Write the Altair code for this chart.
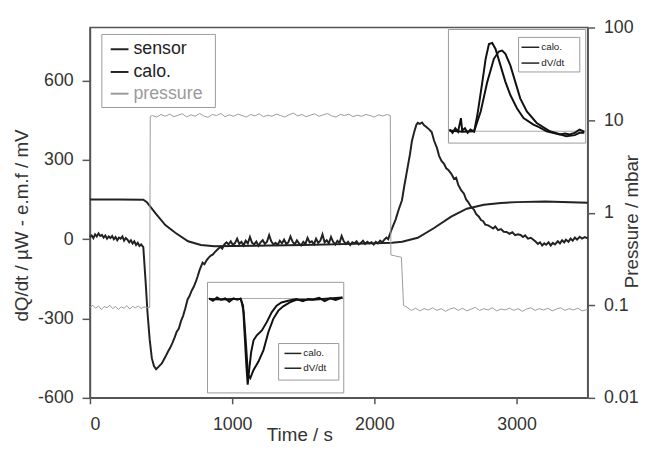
import altair as alt
import pandas as pd

FONT = "Liberation Sans"
INK = "#222222"
GRAY = "#9a9a9a"
AX = "#555555"

# ---- main chart data (time / s, value) ----
sensor_pts = [(0, 150), (200, 150), (375, 149), (400, 140), (460, 98), (530, 53), (600, 24),
              (690, -8), (780, -22), (875, -27), (1000, -26), (1500, -22), (2000, -16),
              (2125, -14), (2195, -10), (2305, 5), (2420, 42), (2540, 85), (2650, 115),
              (2770, 130), (2890, 137), (3000, 140), (3200, 142), (3500, 138)]

calo_pts = [(0, 8), (12, 14), (24, 4), (36, 18), (48, 10), (60, 22), (72, 12), (84, 16), (96, 6),
            (108, 14), (120, 2), (132, 10), (144, 4), (156, 12), (168, 0), (180, 8), (192, -4),
            (204, 6), (216, 2), (228, 10), (240, -6), (252, 4), (264, -2), (276, -12), (288, -4),
            (300, -16), (312, -8), (324, -22), (336, -14), (348, -26), (360, -20),
            (375, -30), (390, -150), (405, -280), (420, -380), (435, -450), (450, -480),
            (465, -492), (478, -485), (490, -478), (505, -470), (520, -455), (535, -440),
            (550, -424), (565, -410), (580, -392), (595, -372), (610, -350), (625, -338),
            (640, -310), (655, -290), (670, -262), (687, -227), (700, -215), (715, -195),
            (730, -180), (745, -160), (757, -141), (770, -118), (792, -89), (805, -95),
            (820, -80), (835, -70), (850, -62), (865, -58), (875, -51), (895, -40), (917, -29),
            (930, -36), (945, -20),
            (960, -12), (975, -20), (990, -8), (1005, -22), (1020, -15), (1035, 2), (1050, -18),
            (1065, -10), (1080, -24), (1095, -6), (1110, -16), (1125, 8), (1140, -14),
            (1155, -20), (1170, -9), (1185, -25), (1200, -12), (1215, -4), (1230, -18),
            (1245, -10), (1260, 15), (1275, -8), (1290, -20), (1305, -14), (1320, -22),
            (1335, -6), (1350, -16), (1365, -2), (1380, -18), (1395, -12), (1410, 10),
            (1425, -10), (1440, -20), (1455, -5), (1470, -16), (1485, -24), (1500, -10),
            (1515, -18), (1530, 5), (1545, -12), (1560, -8), (1575, -20), (1590, 2),
            (1605, -14), (1620, -6), (1635, 18), (1650, -12), (1665, -4), (1680, -16),
            (1695, 8), (1710, -10), (1725, -20), (1740, -6), (1755, -14), (1770, 12),
            (1785, -8), (1800, -18), (1815, -10), (1830, -22), (1845, -12), (1860, -16),
            (1875, -8), (1890, -20), (1905, -14), (1920, -6), (1935, -18), (1950, -10),
            (1965, -16), (1980, -12), (1995, -20), (2010, -10), (2025, -16), (2040, -6),
            (2055, -12), (2070, -2), (2085, 6), (2097, 0),
            (2120, 35), (2150, 75), (2170, 110), (2194, 147), (2210, 200), (2230, 260),
            (2250, 320), (2264, 371), (2280, 405), (2295, 432), (2305, 440), (2320, 436),
            (2335, 441), (2350, 430), (2370, 422), (2385, 415), (2403, 405), (2420, 372),
            (2440, 345), (2455, 315), (2472, 296), (2490, 285), (2505, 268), (2520, 262),
            (2541, 247), (2560, 228), (2575, 232), (2590, 205), (2611, 184), (2630, 172),
            (2645, 150), (2660, 140), (2681, 121), (2700, 112), (2715, 95), (2735, 85),
            (2750, 72), (2765, 68), (2780, 55), (2800, 52), (2819, 46), (2835, 40), (2850, 48),
            (2870, 34), (2890, 38), (2910, 28), (2930, 27), (2950, 20), (2970, 26), (2990, 15),
            (3010, 18), (3028, 16), (3045, 8), (3060, 14), (3080, 2), (3100, 5), (3118, -2),
            (3135, -10), (3150, -18), (3165, -12), (3180, -24), (3195, -16), (3208, -21),
            (3225, -12), (3240, -24), (3255, -14), (3270, -20), (3290, -8), (3305, -16),
            (3320, -4), (3335, -12), (3347, -2), (3365, -10), (3380, 2), (3395, -6),
            (3410, 6), (3425, -2), (3444, 9), (3460, 2), (3480, 8), (3500, 3)]

pressure_pts = [(0, 0.095), (20, 0.1), (40, 0.093), (60, 0.098), (80, 0.09), (100, 0.097),
                (120, 0.094), (140, 0.1), (160, 0.092), (180, 0.097), (200, 0.09), (220, 0.096),
                (240, 0.093), (260, 0.099), (280, 0.091), (300, 0.097), (320, 0.094),
                (340, 0.098), (360, 0.092), (380, 0.096), (400, 0.094), (420, 0.095),
                (424, 11.0), (440, 11.2), (470, 10.8), (500, 11.5), (530, 11.0), (560, 11.6),
                (590, 10.9), (620, 11.3), (650, 11.7), (680, 10.8), (710, 11.4), (740, 11.0),
                (770, 11.8), (800, 11.1), (830, 10.7), (860, 11.5), (890, 11.2), (920, 11.8),
                (950, 10.9), (980, 11.4), (1010, 11.0), (1040, 11.6), (1070, 11.2), (1100, 10.8),
                (1130, 11.5), (1160, 11.1), (1190, 11.7), (1220, 10.9), (1250, 11.3),
                (1280, 11.0), (1310, 11.6), (1340, 11.2), (1370, 10.8), (1400, 11.4),
                (1430, 11.9), (1460, 11.1), (1490, 11.5), (1520, 10.9), (1550, 11.3),
                (1580, 11.7), (1610, 11.0), (1640, 11.4), (1670, 11.8), (1700, 11.1),
                (1730, 10.8), (1760, 11.5), (1790, 11.2), (1820, 11.6), (1850, 10.9),
                (1880, 11.3), (1910, 11.0), (1940, 11.5), (1970, 11.2), (2000, 10.8),
                (2030, 11.4), (2060, 11.1), (2090, 11.5), (2112, 11.2), (2116, 0.35),
                (2150, 0.34), (2190, 0.33), (2205, 0.1), (2230, 0.095), (2260, 0.088),
                (2290, 0.093), (2320, 0.087), (2350, 0.092), (2380, 0.089), (2410, 0.094),
                (2440, 0.088), (2470, 0.092), (2500, 0.086), (2530, 0.091), (2560, 0.094),
                (2590, 0.088), (2620, 0.093), (2650, 0.087), (2680, 0.091), (2710, 0.095),
                (2740, 0.088), (2770, 0.092), (2800, 0.089), (2830, 0.094), (2860, 0.087),
                (2890, 0.091), (2920, 0.089), (2950, 0.093), (2980, 0.088), (3010, 0.092),
                (3040, 0.086), (3070, 0.091), (3100, 0.094), (3130, 0.088), (3160, 0.092),
                (3190, 0.089), (3220, 0.093), (3250, 0.087), (3280, 0.091), (3310, 0.094),
                (3340, 0.088), (3370, 0.092), (3400, 0.089), (3430, 0.093), (3460, 0.087),
                (3500, 0.09)]

# ---- insets (relative units, 0..100 of each inset frame) ----
inset1_calo = [(0.7, 12), (3, 9), (5, 13), (7, 10), (9.1, 22), (10, 11), (12, 13), (14, 9),
               (16, 12), (18.7, 10), (21.1, 24.9), (24.7, 53.9), (27.1, 74.2), (29.5, 87.2),
               (31.9, 88.1), (34.3, 82.9), (37.9, 68.4), (41.5, 53.9), (45.1, 42.3),
               (49.9, 30.7), (54.7, 22), (61.9, 16.2), (66, 14), (71.5, 10.4), (76, 9),
               (81.1, 7.5), (85, 8.5), (88.3, 7.5), (92, 9), (95.5, 11.9), (99, 10)]
inset1_dvdt = [(0.7, 11), (10, 10), (18.7, 10.4), (23.5, 27.8), (28.3, 53.9), (33.1, 74.2),
               (36.7, 80.6), (39.1, 81.4), (41.5, 78.6), (45.1, 68.4), (48.7, 53.9),
               (52.3, 39.4), (57.1, 27.8), (64.3, 17.7), (73.9, 10.4), (85.9, 6.1), (92, 7),
               (95.5, 9), (99, 9)]
inset1_base = 10.4

inset2_calo = [(1.2, 85.4), (4, 83.3), (7, 86.3), (10, 84.2), (13, 85.4), (16, 82.5),
               (19, 85.4), (22, 84.2), (24.2, 85.4), (26.1, 78.9), (27.3, 52.1), (28.5, 25.3),
               (29.5, 7.4), (30.7, 22.3), (32.1, 37.2), (33.8, 47.6), (36.2, 52.1),
               (39.9, 56.5), (43.5, 64.0), (47.1, 72.9), (50.7, 78.9), (54.3, 81.8),
               (59.2, 83.3), (65.2, 84.8), (70, 83), (74, 85), (77.3, 84.5), (82, 86),
               (86, 83), (90, 85.5), (94, 84), (99, 86.3)]
inset2_dvdt = [(1.2, 85), (10, 84.5), (20, 85), (24.6, 84.8), (26.6, 72.9), (28.3, 43.1),
               (29.7, 16.4), (31.4, 13.4), (33.8, 20.8), (37.4, 28.3), (41.1, 38.7),
               (44.7, 55.1), (48.3, 67.0), (52.0, 74.4), (55.6, 78.3), (60.4, 81.8),
               (65.2, 84.2), (77.3, 84.2), (99, 86.3)]
inset2_base = 85.4

legend_labels = ["sensor", "calo.", "pressure"]
legend_colors = [INK, INK, GRAY]
inset_labels = ["calo.", "dV/dt"]

W, H = 504, 375


def pts_df(pts, name):
    return pd.DataFrame({"x": [p[0] for p in pts], "y": [p[1] for p in pts], "series": name})


main_df = pd.concat([pts_df(sensor_pts, "sensor"), pts_df(calo_pts, "calo.")])
press_df = pts_df(pressure_pts, "pressure")
one = pd.DataFrame({"k": [0]})

x_main = alt.X("x:Q", scale=alt.Scale(domain=[0, 3500], nice=False),
               axis=alt.Axis(values=[0, 1000, 2000, 3000], title="Time / s", tickSize=6,
                             labelPadding=12, titleX=212, titleY=37, titleBaseline="middle",
                             grid=False, labelExpr="'' + datum.value"))

main_lines = alt.Chart(main_df).mark_line(color=INK, strokeWidth=2).encode(
    x=x_main,
    y=alt.Y("y:Q", scale=alt.Scale(domain=[-600, 800], nice=False, zero=False),
            axis=alt.Axis(values=[-600, -300, 0, 300, 600], orient="left",
                          title="dQ/dt / µW   - e.m.f / mV", tickSize=8, labelPadding=9,
                          titleX=-69, titleY=200, titleAngle=270, titleBaseline="middle",
                          titleAlign="center", grid=False, labelExpr="'' + datum.value")),
    detail="series:N",
)

press_line = alt.Chart(press_df).mark_line(color=GRAY, strokeWidth=1).encode(
    x=alt.X("x:Q", scale=alt.Scale(domain=[0, 3500], nice=False), axis=None),
    y=alt.Y("y:Q", scale=alt.Scale(type="log", domain=[0.01, 100], nice=False),
            axis=alt.Axis(orient="right", values=[0.01, 0.1, 1, 10, 100],
                          title="Pressure / mbar", tickSize=7, labelPadding=9,
                          titleX=44, titleY=196, titleAngle=270, titleBaseline="middle",
                          titleAlign="center", grid=False, labelExpr="'' + datum.value")),
)


def box(x0, x1, y0, y1, stroke="#999999"):
    return alt.Chart(one).mark_rect(fill="white", stroke=stroke, strokeWidth=1).encode(
        x=alt.value(x0), x2=alt.value(x1), y=alt.value(y0), y2=alt.value(y1))


def legend_rows(labels, colors, x0, x1, tx, ys, size, width):
    layers = []
    for lab, col, yy in zip(labels, colors, ys):
        layers.append(alt.Chart(one).mark_rule(color=col, strokeWidth=width).encode(
            x=alt.value(x0), x2=alt.value(x1), y=alt.value(yy)))
        layers.append(alt.Chart(pd.DataFrame({"t": [lab]})).mark_text(
            align="left", baseline="middle", font=FONT, fontSize=size, color=col).encode(
            x=alt.value(tx), y=alt.value(yy), text="t:N"))
    return layers


def inset(curves, base, xr, yr):
    sx = alt.Scale(domain=[0, 100], range=xr, nice=False, zero=False)
    sy = alt.Scale(domain=[0, 100], range=yr, nice=False, zero=False)
    layers = [box(xr[0], xr[1], yr[1], yr[0])]
    layers.append(alt.Chart(pd.DataFrame({"x": [0, 100], "y": [base, base]})).mark_line(
        color="#aaaaaa", strokeWidth=1).encode(
        x=alt.X("x:Q", scale=sx, axis=None), y=alt.Y("y:Q", scale=sy, axis=None)))
    for pts, name in curves:
        layers.append(alt.Chart(pts_df(pts, name)).mark_line(color="#111111", strokeWidth=2).encode(
            x=alt.X("x:Q", scale=sx, axis=None), y=alt.Y("y:Q", scale=sy, axis=None)))
    return layers


layers = [main_lines, press_line]
# main legend
layers.append(box(12, 127, 7, 81))
layers += legend_rows(legend_labels, legend_colors, 21, 39, 44, [22, 45, 67], 18, 2)
# inset 1 (top right)
layers += inset([(inset1_calo, "calo."), (inset1_dvdt, "dV/dt")], inset1_base, [363, 502], [117, 2])
layers.append(box(434, 496, 10, 45))
layers += legend_rows(inset_labels, [INK, INK], 437, 455, 457, [20, 36], 10, 1.5)
# inset 2 (bottom middle)
layers += inset([(inset2_calo, "calo."), (inset2_dvdt, "dV/dt")], inset2_base, [119, 257], [370, 258])
layers.append(box(191, 252, 320, 357))
layers += legend_rows(inset_labels, [INK, INK], 197, 214, 216, [330, 345], 10, 1.5)

chart = alt.layer(*layers).resolve_scale(x="independent", y="independent").properties(
    width=W, height=H, autosize="none",
    padding={"left": 83, "top": 17, "right": 55, "bottom": 48},
).configure_axis(
    labelFont=FONT, titleFont=FONT, labelFontSize=18, titleFontSize=19,
    labelColor="#333333", titleColor="#333333", titleFontWeight="normal",
    domainColor=AX, tickColor=AX, domainWidth=1.5, tickWidth=1.5,
).configure_view(stroke=AX, strokeWidth=1.5)

chart.save("out.html", embed_options={"renderer": "svg", "actions": False})
